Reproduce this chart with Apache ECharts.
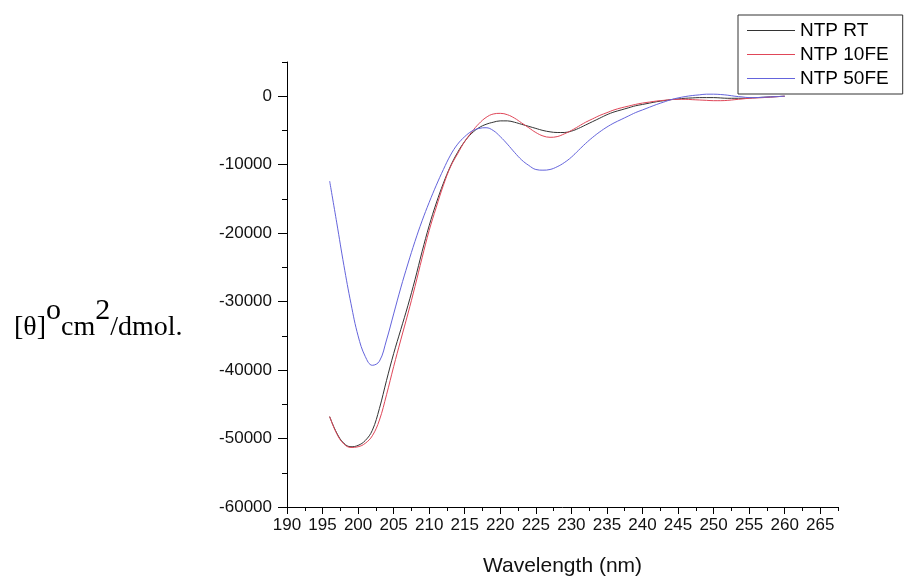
<!DOCTYPE html>
<html>
<head>
<meta charset="utf-8">
<script src="https://cdn.jsdelivr.net/npm/echarts@6/dist/echarts.min.js"></script>
<style>
html,body{margin:0;padding:0;background:#fff;}
#chart{width:906px;height:582px;}
</style>
</head>
<body>
<div id="chart"></div>
<script>
// Wavelength (nm)
var wavelength = [196,197,198,199,200,201,202,203,204,205,206,207,208,209,210,211,212,213,214,215,216,217,218,219,220,221,222,223,224,225,226,227,228,229,230,231,232,233,234,235,236,237,238,239,240,241,242,243,244,245,246,247,248,249,250,251,252,253,254,255,256,257,258,259,260];

var ntpRT = [-46800,-49200,-50700,-51200,-51000,-50300,-48800,-45600,-41500,-37600,-34100,-30600,-26800,-22700,-18900,-15600,-12700,-10200,-8200,-6600,-5400,-4600,-4100,-3800,-3600,-3600,-3800,-4100,-4400,-4700,-5000,-5200,-5300,-5300,-5100,-4700,-4200,-3700,-3200,-2700,-2300,-2000,-1700,-1400,-1200,-1000,-800,-650,-500,-400,-300,-250,-200,-200,-200,-250,-300,-300,-300,-250,-200,-150,-100,-50,0];

var ntp10FE = [-46800,-49300,-50800,-51300,-51200,-50700,-49600,-47300,-43600,-39500,-35600,-31800,-27800,-23600,-19600,-16200,-13000,-10300,-8400,-6600,-5200,-4000,-3100,-2600,-2500,-2700,-3200,-3900,-4600,-5300,-5800,-6000,-5900,-5500,-5000,-4400,-3800,-3300,-2800,-2400,-2000,-1700,-1450,-1200,-1000,-850,-700,-600,-500,-450,-450,-500,-550,-600,-650,-650,-600,-500,-400,-300,-250,-200,-120,-60,0];

var ntp50FE = [-12400,-18500,-24700,-30300,-35000,-38000,-39300,-38700,-35600,-31800,-28000,-24500,-21200,-18200,-15500,-13000,-10700,-8600,-7000,-5900,-5100,-4700,-4600,-5000,-5900,-7000,-8200,-9300,-10100,-10700,-10800,-10700,-10300,-9700,-8900,-7900,-6900,-6000,-5200,-4500,-3900,-3400,-2900,-2400,-2000,-1600,-1200,-850,-500,-250,-50,100,200,300,300,250,150,0,-100,-200,-200,-150,-100,-50,0];

var seriesNames = ['NTP RT', 'NTP 10FE', 'NTP 50FE'];

var xTicks = [190,195,200,205,210,215,220,225,230,235,240,245,250,255,260,265];
var xMinorTicks = [192.5,197.5,202.5,207.5,212.5,217.5,222.5,227.5,232.5,237.5,242.5,247.5,252.5,257.5,262.5,267.5];
var yTicks = [-60000,-50000,-40000,-30000,-20000,-10000,0];
var yMinorTicks = [-55000,-45000,-35000,-25000,-15000,-5000,5000];

function pairs(xs, ys) {
  var out = [];
  for (var i = 0; i < xs.length; i++) out.push([xs[i], ys[i]]);
  return out;
}

var chart = echarts.init(document.getElementById('chart'), null, {renderer: 'canvas'});
var axisColor = '#000';
var font = 'Liberation Sans, Arial, sans-serif';
var plain = function (v) { return String(v); };

var option = {
  animation: false,
  backgroundColor: '#fff',
  grid: {left: 287, right: 68, top: 62, bottom: 70, containLabel: false},
  legend: {
    orient: 'vertical',
    left: 738,
    top: 15,
    icon: 'rect',
    itemWidth: 48,
    itemHeight: 1,
    itemGap: 5,
    padding: [6, 14, 6, 9],
    borderColor: '#333',
    borderWidth: 1,
    backgroundColor: '#fff',
    textStyle: {fontSize: 19, fontFamily: font, color: '#000', lineHeight: 19},
    data: seriesNames
  },
  xAxis: [{
    type: 'value',
    min: 190,
    max: 267.5,
    interval: 5,
    axisLine: {show: true, onZero: false, lineStyle: {color: axisColor, width: 1}},
    axisTick: {show: true, inside: false, length: 7, customValues: xTicks, lineStyle: {color: axisColor}},
    axisLabel: {show: true, customValues: xTicks, formatter: plain, fontSize: 17, fontFamily: font, color: '#111', margin: 10},
    splitLine: {show: false},
    name: 'Wavelength (nm)',
    nameLocation: 'middle',
    nameGap: 49,
    nameTextStyle: {fontSize: 21, fontFamily: font, color: '#111'}
  }, {
    type: 'value',
    position: 'bottom',
    min: 190,
    max: 267.5,
    interval: 5,
    axisLine: {show: false, onZero: false},
    axisTick: {show: true, inside: false, length: 4, customValues: xMinorTicks, lineStyle: {color: axisColor}},
    axisLabel: {show: false},
    splitLine: {show: false}
  }],
  yAxis: [{
    type: 'value',
    min: -60000,
    max: 5000,
    interval: 10000,
    axisLine: {show: true, onZero: false, lineStyle: {color: axisColor, width: 1}},
    axisTick: {show: true, inside: false, length: 9, customValues: yTicks, lineStyle: {color: axisColor}},
    axisLabel: {show: true, customValues: yTicks, formatter: plain, fontSize: 17, fontFamily: font, color: '#111', margin: 15},
    splitLine: {show: false}
  }, {
    type: 'value',
    position: 'left',
    min: -60000,
    max: 5000,
    interval: 10000,
    axisLine: {show: false, onZero: false},
    axisTick: {show: true, inside: false, length: 5, customValues: yMinorTicks, lineStyle: {color: axisColor}},
    axisLabel: {show: false},
    splitLine: {show: false}
  }],
  graphic: [{
    type: 'text',
    left: 14,
    top: 296,
    style: {
      text: '{a|[θ]}{s|o}{a|cm}{t|2}{a|/dmol.}',
      rich: {
        a: {fontSize: 28, fontFamily: 'Liberation Serif, Times New Roman, serif', color: '#111', verticalAlign: 'bottom', lineHeight: 30},
        s: {fontSize: 30, fontFamily: 'Liberation Serif, Times New Roman, serif', color: '#111', verticalAlign: 'bottom', lineHeight: 30, padding: [0, 0, 16, 0]},
        t: {fontSize: 30, fontFamily: 'Liberation Serif, Times New Roman, serif', color: '#111', verticalAlign: 'bottom', lineHeight: 30, padding: [0, 0, 16, 0]}
      }
    }
  }],
  series: [{
    name: seriesNames[0],
    type: 'line',
    xAxisIndex: 0, yAxisIndex: 0,
    data: pairs(wavelength, ntpRT),
    smooth: 0.4,
    showSymbol: false,
    symbol: 'none',
    lineStyle: {color: '#333333', width: 1},
    itemStyle: {color: '#333333'}
  }, {
    name: seriesNames[1],
    type: 'line',
    xAxisIndex: 0, yAxisIndex: 0,
    data: pairs(wavelength, ntp10FE),
    smooth: 0.4,
    showSymbol: false,
    symbol: 'none',
    lineStyle: {color: '#e04658', width: 1},
    itemStyle: {color: '#e04658'}
  }, {
    name: seriesNames[2],
    type: 'line',
    xAxisIndex: 0, yAxisIndex: 0,
    data: pairs(wavelength, ntp50FE),
    smooth: 0.4,
    showSymbol: false,
    symbol: 'none',
    lineStyle: {color: '#6464dc', width: 1},
    itemStyle: {color: '#6464dc'}
  }]
};
chart.setOption(option);
</script>
</body>
</html>
